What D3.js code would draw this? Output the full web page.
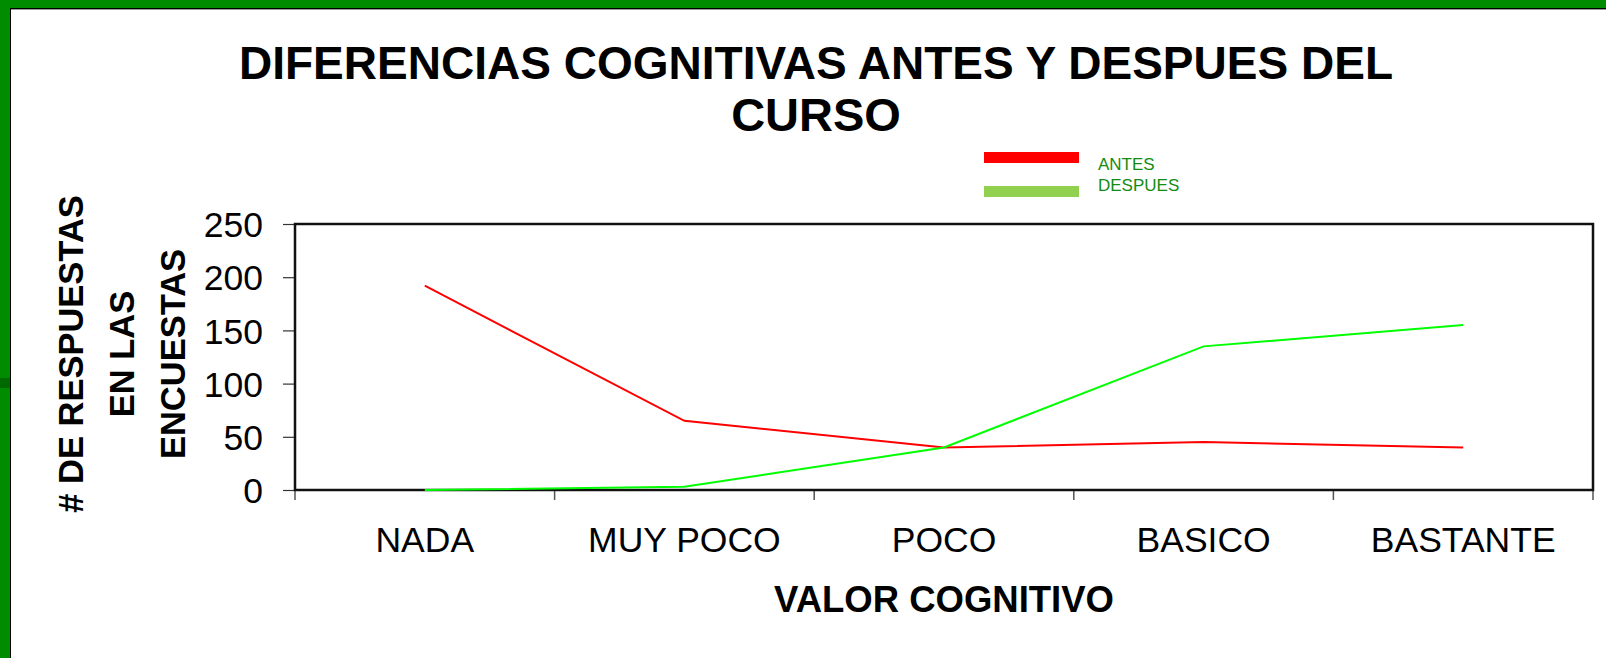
<!DOCTYPE html>
<html>
<head>
<meta charset="utf-8">
<script src="https://cdn.jsdelivr.net/npm/d3@7"></script>
<style>
  html, body { margin: 0; padding: 0; background: #ffffff; }
  svg { display: block; font-family: "Liberation Sans", Arial, sans-serif; }
</style>
</head>
<body>
<svg id="chart" width="1606" height="658"></svg>
<script>
// Response counts per cognitive level, before and after the course
const categories = ["NADA", "MUY POCO", "POCO", "BASICO", "BASTANTE"];
const antes = [192, 65, 40, 45, 40];
const despues = [0, 3, 40, 135, 155];
const yTicks = [0, 50, 100, 150, 200, 250];

const seriesNames = ["ANTES", "DESPUES"];
const lineColors = ["#ff0000", "#00ff00"];
const legendColors = ["#ff0000", "#92d050"];

const svg = d3.select("#chart");
const W = 1606, H = 658;

// Slide background with green frame on the top and left edges
svg.append("rect").attr("x", 0).attr("y", 0).attr("width", W).attr("height", H).attr("fill", "#008c00");
svg.append("rect").attr("x", 10).attr("y", 8).attr("width", W - 10).attr("height", H - 8).attr("fill", "#ffffff");
svg.append("line").attr("x1", 10.5).attr("x2", 10.5).attr("y1", 8).attr("y2", H).attr("stroke", "#000").attr("stroke-width", 1);
svg.append("line").attr("x1", 10).attr("x2", W).attr("y1", 8.5).attr("y2", 8.5).attr("stroke", "#000").attr("stroke-width", 1);
svg.append("line").attr("x1", 11).attr("x2", W).attr("y1", 9.5).attr("y2", 9.5).attr("stroke", "#999").attr("stroke-width", 1);
svg.append("rect").attr("x", 0).attr("y", 378).attr("width", 10).attr("height", 10).attr("fill", "#006a00");

// Plot area
const plot = { left: 295, right: 1593, top: 224, bottom: 490 };

const x = d3.scaleBand().domain(categories).range([plot.left, plot.right]).padding(0);
const y = d3.scaleLinear().domain([0, 250]).range([plot.bottom, plot.top]);
const cx = d => x(d) + x.bandwidth() / 2;

// Title
const title = svg.append("g").attr("font-weight", "bold").attr("fill", "#000").attr("text-anchor", "middle");
title.append("text").attr("x", 816).attr("y", 79).attr("font-size", 46)
  .attr("textLength", 1154).attr("lengthAdjust", "spacingAndGlyphs")
  .text("DIFERENCIAS COGNITIVAS ANTES Y DESPUES DEL");
title.append("text").attr("x", 816).attr("y", 131).attr("font-size", 47).text("CURSO");

// Legend
const legend = svg.append("g");
seriesNames.forEach((name, i) => {
  const ly = 152 + i * 34;
  legend.append("rect").attr("x", 984).attr("y", ly).attr("width", 95).attr("height", 11).attr("fill", legendColors[i]);
});
seriesNames.forEach((name, i) => {
  legend.append("text").attr("x", 1098).attr("y", 170 + i * 21).attr("font-size", 17)
    .attr("fill", "#128c12").text(name);
});

// Y axis
const yAxis = d3.axisLeft(y).tickValues(yTicks).tickSize(12).tickPadding(20).tickFormat(d3.format("d"));
const gy = svg.append("g").attr("transform", `translate(${plot.left},0)`).call(yAxis);
gy.select(".domain").remove();
gy.selectAll(".tick line").attr("stroke", "#333").attr("stroke-width", 1.2);
gy.selectAll(".tick text").attr("font-size", 35.5).attr("fill", "#000")
  .attr("font-family", "\"Liberation Sans\", Arial, sans-serif").attr("dy", "0.36em");

// X axis: category boundary ticks and centred labels
const boundaries = categories.map(c => x(c)).concat([plot.right]);
svg.append("g").selectAll("line").data(boundaries).join("line")
  .attr("x1", d => d).attr("x2", d => d)
  .attr("y1", plot.bottom).attr("y2", plot.bottom + 10)
  .attr("stroke", "#555").attr("stroke-width", 1.5);
const xAxis = d3.axisBottom(x).tickSize(0).tickPadding(0);
const gx = svg.append("g").attr("transform", `translate(0,${plot.bottom})`).call(xAxis);
gx.select(".domain").remove();
gx.selectAll(".tick text").attr("font-size", 35.5).attr("fill", "#000")
  .attr("font-family", "\"Liberation Sans\", Arial, sans-serif")
  .attr("y", 62).attr("dy", 0);

// Plot frame
svg.append("rect").attr("x", plot.left).attr("y", plot.top)
  .attr("width", plot.right - plot.left).attr("height", plot.bottom - plot.top)
  .attr("fill", "none").attr("stroke", "#111").attr("stroke-width", 2.5);

// Series lines
const line = d3.line().x((d, i) => cx(categories[i])).y(d => y(d));
[antes, despues].forEach((vals, i) => {
  svg.append("path").datum(vals).attr("d", line)
    .attr("fill", "none").attr("stroke", lineColors[i]).attr("stroke-width", 2);
});

// Axis titles
svg.append("text").attr("x", 944).attr("y", 612).attr("text-anchor", "middle")
  .attr("font-size", 36.5).attr("font-weight", "bold").text("VALOR COGNITIVO");

const yTitleLines = ["# DE RESPUESTAS", "EN LAS", "ENCUESTAS"];
svg.append("g").selectAll("text").data(yTitleLines).join("text")
  .attr("transform", (d, i) => `translate(${71 + i * 51},354) rotate(-90)`)
  .attr("text-anchor", "middle").attr("dy", "0.36em")
  .attr("font-size", 34.5).attr("font-weight", "bold").text(d => d);
</script>
</body>
</html>
